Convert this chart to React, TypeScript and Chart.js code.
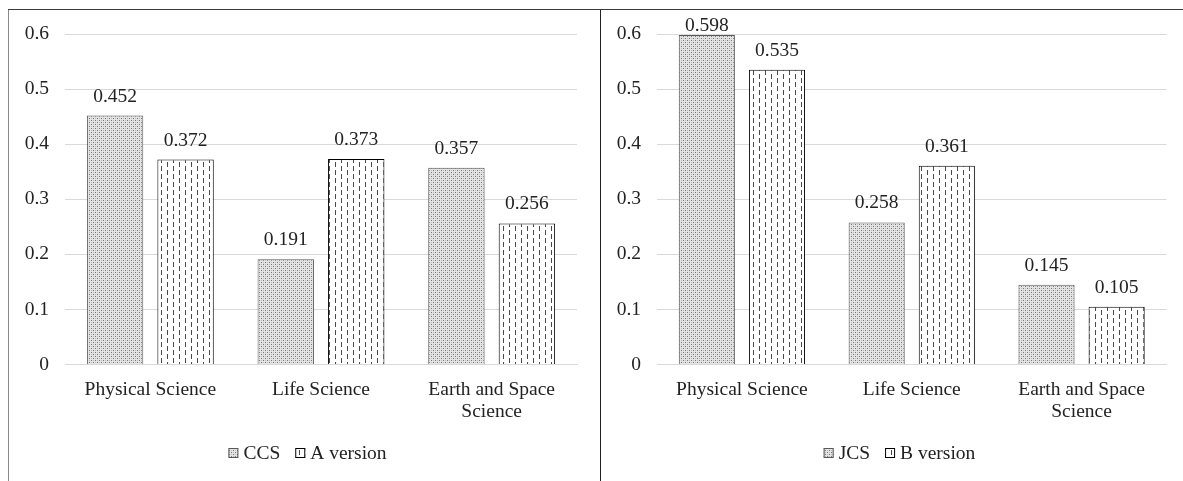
import React, { useEffect, useRef } from "react";
import { Chart, registerables } from "chart.js";

Chart.register(...registerables);

const categories: (string | string[])[] = [
  "Physical Science",
  "Life Science",
  ["Earth and Space", "Science"],
];
const leftSeriesNames = ["CCS", "A version"];
const ccsValues = [0.452, 0.191, 0.357];
const aVersionValues = [0.372, 0.373, 0.256];

const rightSeriesNames = ["JCS", "B version"];
const jcsValues = [0.598, 0.258, 0.145];
const bVersionValues = [0.535, 0.361, 0.105];

const yTicks = [0, 0.1, 0.2, 0.3, 0.4, 0.5, 0.6];

const FONT = "'Liberation Serif', 'Times New Roman', serif";
const FS = 19.5;
const TEXT = "#222222";

function dotPattern(): CanvasPattern | string {
  const c = document.createElement("canvas");
  c.width = 4;
  c.height = 4;
  const g = c.getContext("2d");
  if (!g) return "#ccc";
  g.fillStyle = "#e4e4e4";
  g.fillRect(0, 0, 4, 4);
  g.fillStyle = "#777777";
  g.fillRect(0, 0, 1, 1);
  g.fillRect(2, 2, 1, 1);
  g.fillStyle = "#bdbdbd";
  g.fillRect(2, 0, 1, 1);
  g.fillRect(0, 2, 1, 1);
  const p = g.createPattern(c, "repeat");
  return p || "#ccc";
}

function dashPattern(): CanvasPattern | string {
  const c = document.createElement("canvas");
  c.width = 12;
  c.height = 8;
  const g = c.getContext("2d");
  if (!g) return "#eee";
  g.fillStyle = "#ffffff";
  g.fillRect(0, 0, 12, 8);
  g.fillStyle = "#4a4a4a";
  g.fillRect(2, 0, 1, 5);
  g.fillRect(8, 4, 1, 4);
  g.fillRect(8, 0, 1, 1);
  const p = g.createPattern(c, "repeat");
  return p || "#eee";
}

const valueLabels = {
  id: "valueLabels",
  afterDatasetsDraw(chart: any) {
    const ctx = chart.ctx;
    const top = chart.chartArea.top;
    ctx.save();
    ctx.font = `${FS}px ${FONT}`;
    ctx.fillStyle = TEXT;
    ctx.textAlign = "center";
    ctx.textBaseline = "alphabetic";
    chart.data.datasets.forEach((ds: any, di: number) => {
      const meta = chart.getDatasetMeta(di);
      meta.data.forEach((el: any, i: number) => {
        const v = ds.data[i];
        const y = Math.max(el.y - 14, top - 3);
        ctx.fillText(v.toFixed(3), el.x, y);
      });
    });
    ctx.restore();
  },
};

// Compact legend drawn below the axis (box, small gap, label)
const compactLegend = {
  id: "compactLegend",
  afterDraw(chart: any) {
    const ctx = chart.ctx;
    const box = 10;
    const gapText = 5;
    const gapItem = 15;
    ctx.save();
    ctx.font = `${FS}px ${FONT}`;
    const items = chart.data.datasets.map((ds: any) => ({
      ds,
      w: ctx.measureText(ds.label).width,
    }));
    const total =
      items.reduce((s: number, it: any) => s + box + gapText + it.w, 0) +
      gapItem * (items.length - 1);
    let x = chart.width / 2 + 3 - total / 2;
    const cy = chart.height - 28;
    items.forEach((it: any) => {
      ctx.fillStyle = it.ds.backgroundColor;
      ctx.fillRect(x, cy - box / 2, box, box);
      ctx.strokeStyle = it.ds.borderColor;
      ctx.lineWidth = 1;
      ctx.strokeRect(x + 0.5, cy - box / 2 + 0.5, box - 1, box - 1);
      ctx.fillStyle = TEXT;
      ctx.textAlign = "left";
      ctx.textBaseline = "middle";
      ctx.fillText(it.ds.label, x + box + gapText, cy + 1);
      x += box + gapText + it.w + gapItem;
    });
    ctx.restore();
  },
};

function ChartPanel(props: {
  names: string[];
  a: number[];
  b: number[];
  rightPad: number;
}) {
  const ref = useRef<HTMLCanvasElement | null>(null);
  useEffect(() => {
    if (!ref.current) return;
    const chart = new Chart(ref.current, {
      type: "bar",
      data: {
        labels: categories,
        datasets: [
          {
            label: props.names[0],
            data: props.a,
            backgroundColor: dotPattern() as any,
            borderColor: "#595959",
            borderWidth: 1,
            categoryPercentage: 0.826,
            barPercentage: 0.8,
          },
          {
            label: props.names[1],
            data: props.b,
            backgroundColor: dashPattern() as any,
            borderColor: "#000000",
            borderWidth: 1,
            categoryPercentage: 0.826,
            barPercentage: 0.8,
          },
        ],
      },
      options: {
        responsive: false,
        animation: false,
        devicePixelRatio: 1,
        layout: { padding: { top: 24, right: props.rightPad, bottom: 50, left: 0 } },
        plugins: {
          tooltip: { enabled: false },
          legend: { display: false },
        },
        scales: {
          x: {
            grid: { display: false, drawTicks: false },
            border: { display: true, color: "#d9d9d9", width: 1 },
            ticks: {
              color: TEXT,
              padding: 14,
              maxRotation: 0,
              autoSkip: false,
              font: { size: FS, family: FONT, lineHeight: 1.13 },
            },
            afterFit(scale: any) {
              scale.height = 66.5;
            },
          },
          y: {
            min: 0,
            max: 0.6,
            afterBuildTicks(scale: any) {
              scale.ticks = yTicks.map((v) => ({ value: v }));
            },
            grid: { color: "#d9d9d9", lineWidth: 1, drawTicks: false },
            border: { display: false },
            ticks: {
              color: TEXT,
              padding: 16,
              font: { size: FS, family: FONT },
              callback: (v: any) => (Number(v) === 0 ? "0" : Number(v).toFixed(1)),
            },
            afterFit(scale: any) {
              scale.width = 56;
              scale.paddingTop = 0;
              scale.paddingBottom = 0;
            },
          },
        },
      },
      plugins: [valueLabels, compactLegend],
    });
    return () => chart.destroy();
  }, []);
  return <canvas ref={ref} width={591} height={471} style={{ display: "block" }} />;
}

export default function App() {
  return (
    <div
      style={{
        position: "fixed",
        left: 8,
        top: 9,
        width: 1175,
        height: 472,
        overflow: "hidden",
        background: "#fff",
        borderTop: "1px solid #3a3a3a",
      }}
    >
      <div
        style={{
          position: "absolute",
          left: 0,
          top: 0,
          width: 591,
          height: 471,
          borderLeft: "1px solid #8a8a8a",
        }}
      >
        <ChartPanel names={leftSeriesNames} a={ccsValues} b={aVersionValues} rightPad={23} />
      </div>
      <div
        style={{
          position: "absolute",
          left: 592,
          top: 0,
          width: 591,
          height: 471,
          borderLeft: "1px solid #222",
        }}
      >
        <ChartPanel names={rightSeriesNames} a={jcsValues} b={bVersionValues} rightPad={25.5} />
      </div>
    </div>
  );
}
